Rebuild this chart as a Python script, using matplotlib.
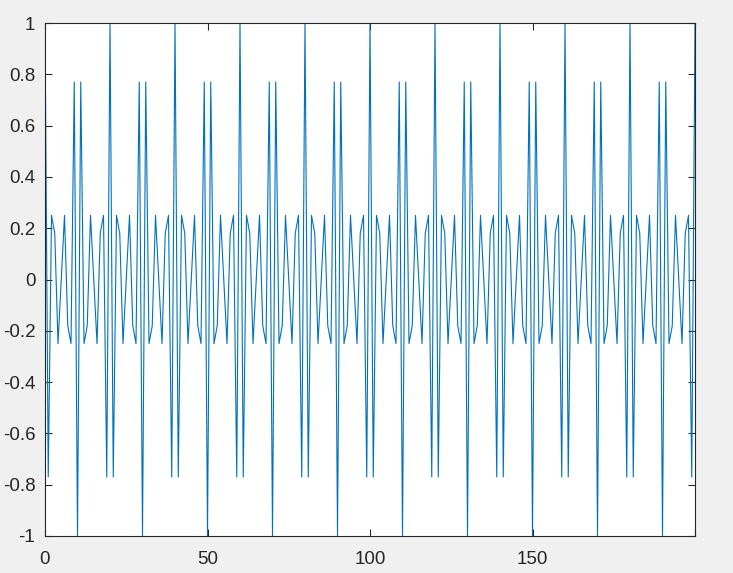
import matplotlib
matplotlib.use('Agg')
import matplotlib.pyplot as plt
from matplotlib.ticker import FormatStrFormatter

# sample index and values (one row = 20 samples)
y = [
    1, -0.77, 0.25, 0.18, -0.25, 0, 0.25, -0.18, -0.25, 0.77, -1, 0.77, -0.25, -0.18, 0.25, 0, -0.25, 0.18, 0.25, -0.77,
    1, -0.77, 0.25, 0.18, -0.25, 0, 0.25, -0.18, -0.25, 0.77, -1, 0.77, -0.25, -0.18, 0.25, 0, -0.25, 0.18, 0.25, -0.77,
    1, -0.77, 0.25, 0.18, -0.25, 0, 0.25, -0.18, -0.25, 0.77, -1, 0.77, -0.25, -0.18, 0.25, 0, -0.25, 0.18, 0.25, -0.77,
    1, -0.77, 0.25, 0.18, -0.25, 0, 0.25, -0.18, -0.25, 0.77, -1, 0.77, -0.25, -0.18, 0.25, 0, -0.25, 0.18, 0.25, -0.77,
    1, -0.77, 0.25, 0.18, -0.25, 0, 0.25, -0.18, -0.25, 0.77, -1, 0.77, -0.25, -0.18, 0.25, 0, -0.25, 0.18, 0.25, -0.77,
    1, -0.77, 0.25, 0.18, -0.25, 0, 0.25, -0.18, -0.25, 0.77, -1, 0.77, -0.25, -0.18, 0.25, 0, -0.25, 0.18, 0.25, -0.77,
    1, -0.77, 0.25, 0.18, -0.25, 0, 0.25, -0.18, -0.25, 0.77, -1, 0.77, -0.25, -0.18, 0.25, 0, -0.25, 0.18, 0.25, -0.77,
    1, -0.77, 0.25, 0.18, -0.25, 0, 0.25, -0.18, -0.25, 0.77, -1, 0.77, -0.25, -0.18, 0.25, 0, -0.25, 0.18, 0.25, -0.77,
    1, -0.77, 0.25, 0.18, -0.25, 0, 0.25, -0.18, -0.25, 0.77, -1, 0.77, -0.25, -0.18, 0.25, 0, -0.25, 0.18, 0.25, -0.77,
    1, -0.77, 0.25, 0.18, -0.25, 0, 0.25, -0.18, -0.25, 0.77, -1, 0.77, -0.25, -0.18, 0.25, 0, -0.25, 0.18, 0.25, -0.77,
    1,
]
n = list(range(len(y)))

x_ticks = [0, 50, 100, 150, 200]
x_labels = ['0', '50', '100', '150', '']   # 200 label is hidden in the reference
y_ticks = [-1, -0.8, -0.6, -0.4, -0.2, 0, 0.2, 0.4, 0.6, 0.8, 1]

plt.rcParams['font.family'] = ['Liberation Sans', 'DejaVu Sans']
plt.rcParams['axes.unicode_minus'] = False

fig = plt.figure(figsize=(7.33, 5.73), dpi=100, facecolor='#f0f0f0')
ax = fig.add_axes([45 / 733, 37 / 573, 650 / 733, 513 / 573])
ax.plot(n, y, color='#0072BD', linewidth=0.8)

ax.set_xlim(0, 200)
ax.set_ylim(-1, 1)
ax.set_xticks(x_ticks)
ax.set_xticklabels(x_labels)
ax.set_yticks(y_ticks)
ax.yaxis.set_major_formatter(FormatStrFormatter('%g'))
ax.tick_params(direction='in', length=5, width=0.8, color='#262626',
               labelcolor='#262626', labelsize=13.5, top=True, right=True)
ax.tick_params(axis='x', pad=11)
ax.tick_params(axis='y', pad=7)
for s in ax.spines.values():
    s.set_color('#262626')
    s.set_linewidth(0.8)

fig.savefig('out.png', dpi=100, facecolor=fig.get_facecolor())
